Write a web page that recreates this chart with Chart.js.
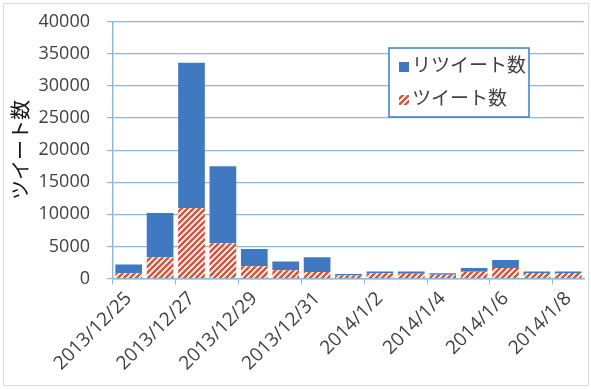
<!DOCTYPE html>
<html>
<head>
<meta charset="utf-8">
<script src="https://cdn.jsdelivr.net/npm/chart.js@4"></script>
<style>
  body { margin: 0; background: #fff; }
  #wrap { width: 591px; height: 389px; }
</style>
</head>
<body>
<div id="wrap"><canvas id="tweetChart" width="591" height="389"></canvas></div>
<script>
// data
const dates = ['2013/12/25', '2013/12/26', '2013/12/27', '2013/12/28', '2013/12/29', '2013/12/30', '2013/12/31',
  '2014/1/1', '2014/1/2', '2014/1/3', '2014/1/4', '2014/1/5', '2014/1/6', '2014/1/7', '2014/1/8'];
const tweets = [800, 3300, 11000, 5500, 1900, 1300, 1000, 450, 800, 750, 600, 1050, 1650, 850, 850];
const retweets = [1400, 6900, 22600, 12000, 2700, 1350, 2300, 250, 300, 350, 200, 600, 1250, 250, 250];
const yTicks = [0, 5000, 10000, 15000, 20000, 25000, 30000, 35000, 40000];

const FONT = "'Open Sans', 'Noto Sans CJK JP', sans-serif";
const TEXT = '#404040';
const BLUE = '#4178c2';
const RED = '#d4573b';
const GRID = '#8db8d8';

// red "///" hatch on white
function hatch() {
  const s = 6;
  const c = document.createElement('canvas');
  c.width = s; c.height = s;
  const g = c.getContext('2d');
  g.fillStyle = '#fff';
  g.fillRect(0, 0, s, s);
  g.strokeStyle = RED;
  g.lineWidth = 2.6;
  g.beginPath();
  g.moveTo(-1, 1); g.lineTo(1, -1);
  g.moveTo(0, s); g.lineTo(s, 0);
  g.moveTo(s - 1, s + 1); g.lineTo(s + 1, s - 1);
  g.stroke();
  return g.createPattern(c, 'repeat');
}
const hatchFill = hatch();

// legend box inside the plot, retweets listed first
const boxLegend = {
  id: 'boxLegend',
  afterDraw(chart) {
    const ctx = chart.ctx;
    const x = 389, y = 48, w = 140, h = 69;
    ctx.save();
    ctx.fillStyle = '#fff';
    ctx.fillRect(x, y, w, h);
    ctx.strokeStyle = '#3c7dc8';
    ctx.lineWidth = 1.5;
    ctx.strokeRect(x, y, w, h);
    const items = chart.data.datasets.slice().reverse();
    ctx.font = '19px ' + FONT;
    ctx.textBaseline = 'middle';
    items.forEach((ds, i) => {
      const cy = y + 19 + i * 33;
      ctx.fillStyle = ds.backgroundColor;
      ctx.fillRect(x + 10, cy - 5, 10, 10);
      ctx.fillStyle = TEXT;
      ctx.fillText(ds.label, x + 23, cy);
    });
    ctx.restore();
  }
};

const frame = {
  id: 'frame',
  beforeDraw(chart) {
    const ctx = chart.ctx;
    ctx.save();
    ctx.fillStyle = '#fff';
    ctx.fillRect(0, 0, chart.width, chart.height);
    ctx.strokeStyle = '#dcdcdc';
    ctx.lineWidth = 1;
    ctx.strokeRect(3.5, 3.5, 585, 382);
    ctx.restore();
  }
};

new Chart(document.getElementById('tweetChart'), {
  type: 'bar',
  data: {
    labels: dates,
    datasets: [
      { label: 'ツイート数', data: tweets, backgroundColor: hatchFill },
      { label: 'リツイート数', data: retweets, backgroundColor: BLUE }
    ]
  },
  options: {
    responsive: false,
    animation: false,
    layout: { padding: { left: 0, right: 7, top: 21.7, bottom: 0 } },
    datasets: { bar: { barPercentage: 0.85, categoryPercentage: 1.0, borderWidth: 0 } },
    plugins: { legend: { display: false }, tooltip: { enabled: false } },
    scales: {
      x: {
        stacked: true,
        afterFit: s => { s.height = 110.5; },
        grid: {
          drawOnChartArea: false,
          tickLength: 6,
          tickColor: c => (c.index % 2 === 0 ? GRID : 'rgba(0,0,0,0)')
        },
        border: { color: GRID, width: 1.5 },
        ticks: {
          autoSkip: false,
          minRotation: 45,
          maxRotation: 45,
          color: TEXT,
          font: { family: FONT, size: 19 },
          callback: (v, i) => (i % 2 === 0 ? dates[i] : '')
        }
      },
      y: {
        stacked: true,
        min: 0,
        max: 40000,
        // tick padding would otherwise push the plot top down
        afterFit: s => { s.width = 113; s.paddingTop = 10; s.paddingBottom = 10; },
        afterBuildTicks: s => { s.ticks = yTicks.map(v => ({ value: v })); },
        grid: { color: GRID, lineWidth: 1.2, tickLength: 6 },
        border: { color: GRID, width: 1.5 },
        ticks: {
          color: TEXT,
          padding: 17,
          font: { family: FONT, size: 18 },
          callback: v => String(v)
        },
        title: {
          display: true,
          text: 'ツイート数',
          color: '#111',
          font: { family: FONT, size: 20 },
          padding: { top: 10, bottom: 0 }
        }
      }
    }
  },
  plugins: [frame, boxLegend]
});
</script>
</body>
</html>
